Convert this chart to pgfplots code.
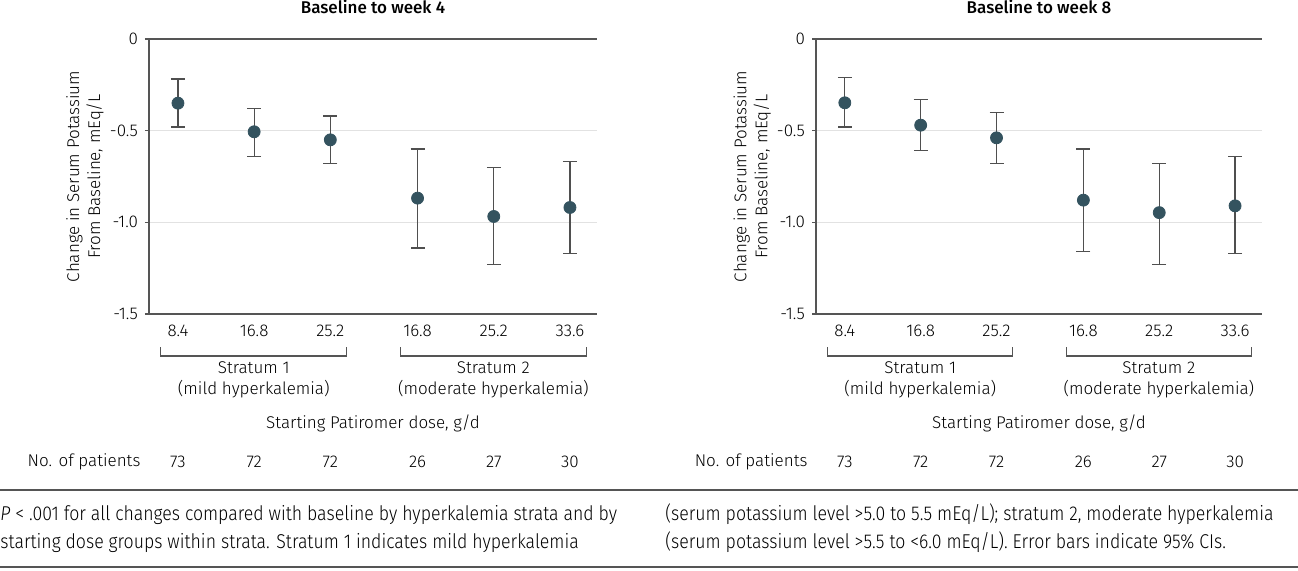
\documentclass[border=0pt]{standalone}
\usepackage{pgfplots}
\pgfplotsset{compat=1.18}
\usepackage{pgfplotstable}
\usepackage{fontspec}
\setmainfont{Fira Sans Light}[BoldFont={Fira Sans Medium}, ItalicFont={Fira Sans Light Italic}]

\definecolor{dotc}{HTML}{34535F}
\definecolor{barc}{HTML}{4F4F4F}
\definecolor{gridc}{HTML}{E2E2E2}
\definecolor{axc}{HTML}{555555}

% x: dose group position, y: mean change, ep/em: distance to upper/lower CI
\pgfplotstableread{
x      y       ep     em
1      -0.350  0.132  0.130
2      -0.506  0.127  0.133
3      -0.550  0.130  0.129
4.145  -0.868  0.268  0.272
5.145  -0.968  0.268  0.263
6.145  -0.919  0.249  0.251
}\weekfour

\pgfplotstableread{
x      y       ep     em
1      -0.348  0.139  0.132
2      -0.470  0.142  0.140
3      -0.539  0.139  0.140
4.145  -0.879  0.279  0.281
5.145  -0.947  0.268  0.284
6.145  -0.910  0.271  0.260
}\weekeight

\pgfplotsset{
  panel/.style={
    anchor=south west, scale only axis,
    height=137.5pt,
    xmin=0.62, xmax=6.5, ymin=-1.5, ymax=0,
    axis lines=left,
    axis line style={-, draw=axc, line width=0.8pt},
    clip=false,
    font=\fontsize{8.5}{10.5}\selectfont,
    ytick={-1.5,-1,-0.5,0},
    yticklabels={-1.5,-1.0,-0.5,0},
    y tick style={draw=axc, line width=0.8pt},
    tick align=outside, major tick length=2pt,
    xtick={1,2,3,4.145,5.145,6.145},
    xticklabels={8.4,16.8,25.2,16.8,25.2,33.6},
    x tick style={draw=none},
    xticklabel style={anchor=base, yshift=-9pt},
    ymajorgrids, grid style={gridc, line width=0.8pt},
    every axis title/.style={at={(0.5,1)}, anchor=base, yshift=13pt, font=\fontsize{8.5}{10.5}\selectfont\bfseries},
    every axis y label/.style={at={(axis description cs:-0.143,0.5)}, rotate=90, anchor=center, align=center},
    ylabel={Change in Serum Potassium\\From Baseline, mEq/L},
  },
  ci/.style={
    only marks, mark=*, mark size=3pt,
    mark options={fill=dotc, draw=dotc},
    error bars/.cd, y dir=both, y explicit,
    error bar style={barc, line width=0.6pt},
    error mark options={rotate=90, mark size=3.5pt, barc, line width=0.6pt},
  },
}

\newcommand{\panelextras}[6]{%
  \draw[axc, line width=0.8pt] (axis cs:0.62,0) -- (axis cs:6.5,0);
  \draw[axc, line width=0.6pt] (axis cs:0.776,-1.68) -- (axis cs:0.776,-1.729) -- (axis cs:3.21,-1.729) -- (axis cs:3.21,-1.68);
  \draw[axc, line width=0.6pt] (axis cs:3.92,-1.68) -- (axis cs:3.92,-1.729) -- (axis cs:6.36,-1.729) -- (axis cs:6.36,-1.68);
  \node[align=center] at (axis cs:1.995,-1.86) {Stratum 1\\(mild hyperkalemia)};
  \node[align=center] at (axis cs:5.14,-1.86) {Stratum 2\\(moderate hyperkalemia)};
  \node at (axis cs:3.56,-2.095) {Starting Patiromer dose, g/d};
  \node[anchor=east] at (axis cs:0.6,-2.307) {No. of patients};
  \node at (axis cs:1,-2.307) {#1};
  \node at (axis cs:2,-2.307) {#2};
  \node at (axis cs:3,-2.307) {#3};
  \node at (axis cs:4.145,-2.307) {#4};
  \node at (axis cs:5.145,-2.307) {#5};
  \node at (axis cs:6.145,-2.307) {#6};
}

\begin{document}
\begin{tikzpicture}
\path[use as bounding box] (0,0) rectangle (649pt,285pt);

\begin{axis}[panel, at={(74.5pt,128pt)}, width=224pt, title={Baseline to week 4}]
  \addplot+[ci] table[x=x, y=y, y error plus=ep, y error minus=em] {\weekfour};
  \panelextras{73}{72}{72}{26}{27}{30}
\end{axis}

\begin{axis}[panel, at={(408pt,128pt)}, width=223pt, title={Baseline to week 8}]
  \addplot+[ci] table[x=x, y=y, y error plus=ep, y error minus=em] {\weekeight};
  \panelextras{73}{72}{72}{26}{27}{30}
\end{axis}

% footnote
\draw[axc, line width=0.8pt] (0,40pt) -- (649pt,40pt);
\draw[axc, line width=0.8pt] (0,1.5pt) -- (649pt,1.5pt);
\begin{scope}[every node/.style={anchor=base west, inner sep=0pt, font=\fontsize{10}{12}\selectfont}]
  \node at (0,25pt) {\scalebox{0.885}[1]{\textit{P} < .001 for all changes compared with baseline by hyperkalemia strata and by}};
  \node at (0,11pt) {\scalebox{0.885}[1]{starting dose groups within strata. Stratum 1 indicates mild hyperkalemia}};
  \node at (332.5pt,25pt) {\scalebox{0.885}[1]{(serum potassium level >5.0 to 5.5 mEq/L); stratum 2, moderate hyperkalemia}};
  \node at (332.5pt,11pt) {\scalebox{0.885}[1]{(serum potassium level >5.5 to <6.0 mEq/L). Error bars indicate 95\% CIs.}};
\end{scope}
\end{tikzpicture}
\end{document}
